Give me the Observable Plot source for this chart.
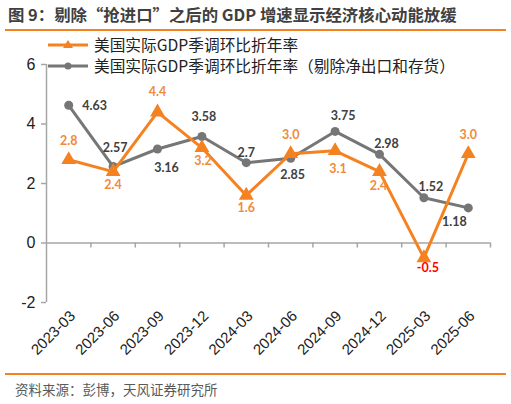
<!DOCTYPE html>
<html><head><meta charset="utf-8">
<script src="https://cdn.jsdelivr.net/npm/d3@7"></script>
<script src="https://cdn.jsdelivr.net/npm/@observablehq/plot@0.6"></script>
<style>
body{margin:0;background:#fff;font-family:"Liberation Sans","Noto Sans CJK SC",sans-serif;}
#wrap{position:relative;width:511px;height:404px;overflow:hidden;}
#title{position:absolute;left:8px;top:2px;font-size:16.4px;font-weight:bold;color:#404040;font-family:"Noto Sans CJK SC","Liberation Sans",sans-serif;white-space:nowrap;}
.hr{position:absolute;left:5px;width:501px;height:1.5px;background:#F58220;}
#legend{position:absolute;left:48px;top:34px;font-size:15.7px;color:#222;font-family:"Noto Sans CJK SC",sans-serif;}
.lg{display:flex;align-items:center;height:21px;white-space:nowrap;}
.lg svg{margin-right:6px;}
#src{position:absolute;left:15px;top:379px;font-size:13.5px;color:#595959;font-family:"Noto Sans CJK SC",sans-serif;}
#chart{position:absolute;left:0;top:0;}
</style></head>
<body>
<div id="wrap">
<div id="chart"></div>
<div id="title">图 9：剔除“抢进口”之后的 GDP 增速显示经济核心动能放缓</div>
<div class="hr" style="top:29px"></div>
<div id="legend"></div>
<div class="hr" style="top:373px"></div>
<div id="src">资料来源：彭博，天风证券研究所</div>
</div>
<script>
const categories = ["2023-03","2023-06","2023-09","2023-12","2024-03","2024-06","2024-09","2024-12","2025-03","2025-06"];
const gdpSaar = [2.8, 2.4, 4.4, 3.2, 1.6, 3.0, 3.1, 2.4, -0.5, 3.0];
const gdpExNetExportsInv = [4.63, 2.57, 3.16, 3.58, 2.7, 2.85, 3.75, 2.98, 1.52, 1.18];
const yTicks = [-2, 0, 2, 4, 6];
const seriesNames = ["美国实际GDP季调环比折年率", "美国实际GDP季调环比折年率（剔除净出口和存货）"];

// label placement (styling, not data)
const orangeOffsets = [[0,-19],[0,13],[0,-20],[1,13],[0,13],[0,-19],[3,18],[-1,14],[4,10],[0,-19]];
const grayOffsets = [[26,1],[2,-19],[9,19],[2,-19],[0,-10],[2,17],[8,-15],[7,-10],[7,-11],[-14,14]];

const ORANGE = "#F58220", GRAY = "#767676", AXIS = "#A6A6A6";
const fmt1 = d => d.toFixed(1);
const fmtG = d => String(d);

const orange = categories.map((c,i)=>({x:i+0.5, v:gdpSaar[i], dx:orangeOffsets[i][0], dy:orangeOffsets[i][1]}));
const gray = categories.map((c,i)=>({x:i+0.5, v:gdpExNetExportsInv[i], dx:grayOffsets[i][0], dy:grayOffsets[i][1]}));

function labelMarks(data, fmt, fillFn){
  const groups = d3.groups(data, d=>d.dx+","+d.dy);
  return groups.map(([k, arr]) => Plot.text(arr, {x:"x", y:"v", text:d=>fmt(d.v), dx:arr[0].dx, dy:arr[0].dy,
    fill: fillFn, fontSize:12.5, fontWeight:"bold", fontFamily:"Lato, 'Open Sans', sans-serif"}));
}

const bounds = d3.range(1, categories.length+1);
const chart = Plot.plot({
  width:511, height:404,
  marginTop:64, marginBottom:102, marginLeft:46, marginRight:21,
  style:{fontFamily:"'Liberation Sans', Arial, sans-serif", background:"transparent"},
  x:{domain:[0, categories.length], label:null},
  y:{domain:[-2, 6], label:null},
  marks:[
    Plot.ruleX([0], {y1:-2, y2:6, stroke:AXIS, strokeWidth:1.5}),
    Plot.ruleY(yTicks, {x1:0, x2:0, insetLeft:-5, stroke:AXIS, strokeWidth:1.5}),
    Plot.ruleY([0], {x1:0, x2:categories.length, stroke:AXIS, strokeWidth:1.5}),
    Plot.ruleX(bounds, {y1:0, y2:0, insetBottom:-5, stroke:AXIS, strokeWidth:1.5}),
    Plot.axisY({ticks:yTicks, tickSize:0, tickPadding:11, fontSize:16, fill:"#222", label:null, tickFormat:d=>String(d)}),
    Plot.axisX({ticks:categories.map((c,i)=>i+0.5), tickFormat:d=>categories[Math.floor(d)], tickRotate:-45, tickSize:0, tickPadding:4, dx:4, dy:7, fontSize:15, fill:"#222", label:null, anchor:"bottom"}),
    Plot.line(gray, {x:"x", y:"v", stroke:GRAY, strokeWidth:3}),
    Plot.dot(gray, {x:"x", y:"v", r:4.5, fill:GRAY}),
    Plot.line(orange, {x:"x", y:"v", stroke:ORANGE, strokeWidth:3}),
    Plot.dot(orange, {x:"x", y:"v", symbol:"triangle", r:5.5, fill:ORANGE}),
    ...labelMarks(orange, fmt1, d => d.v < 0 ? "#FF0000" : "#F08A3C"),
    ...labelMarks(gray, fmtG, "#404040")
  ]
});
document.getElementById("chart").appendChild(chart);

const lg = document.getElementById("legend");
seriesNames.forEach((name,i)=>{
  const col = i===0 ? ORANGE : GRAY;
  const marker = i===0
    ? `<path d="M20,5 L25,13 L15,13 Z" fill="${col}"/>`
    : `<circle cx="20" cy="10" r="3.5" fill="${col}"/>`;
  const row = document.createElement("div");
  row.className = "lg";
  row.innerHTML = `<svg width="40" height="20"><line x1="0" y1="10" x2="40" y2="10" stroke="${col}" stroke-width="3"/>${marker}</svg><span>${name}</span>`;
  lg.appendChild(row);
});
</script>
</body></html>
